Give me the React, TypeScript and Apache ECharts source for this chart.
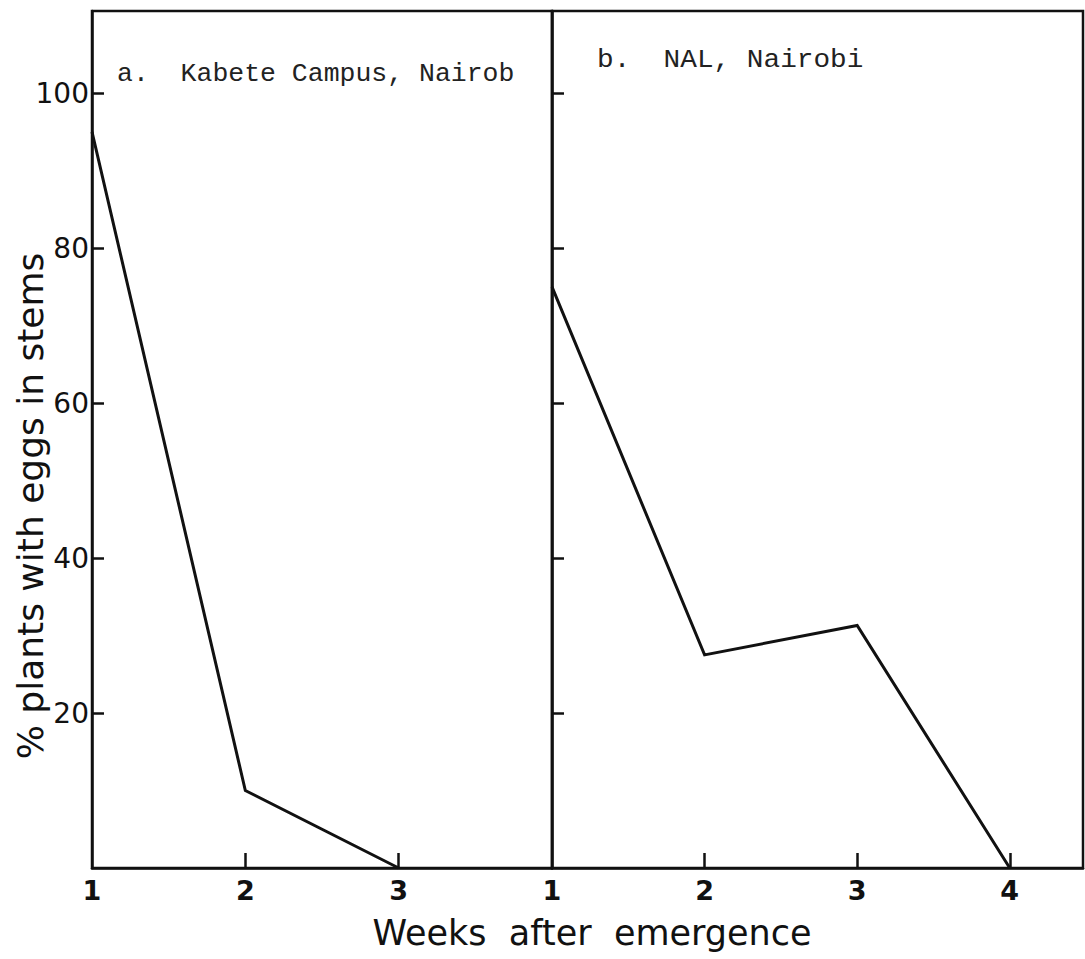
import React, { useEffect, useRef } from "react";
import * as echarts from "echarts";

// Week numbers and % plants with eggs in stems for each site
const kabeteWeeks = [1, 2, 3];
const kabeteValues = [95, 10, 0];
const nalWeeks = [1, 2, 3, 4];
const nalValues = [75, 27.5, 31.3, 0];

const yTickValues = [20, 40, 60, 80, 100];
const kabeteTickLabels = [1, 2, 3];
const nalTickLabels = [1, 2, 3, 4];

const panelTitles = ["a.  Kabete Campus, Nairob", "b.  NAL, Nairobi"];
const yTitle = "% plants with eggs in stems";
const xTitle = "Weeks  after  emergence";

const INK = "#111";
const SANS = "DejaVu Sans, Verdana, sans-serif";
const MONO = "Liberation Mono, DejaVu Sans Mono, monospace";

const toPairs = (xs: number[], ys: number[]) => xs.map((x, i) => [x, ys[i]]);

export default function App() {
  const ref = useRef<HTMLDivElement>(null);

  useEffect(() => {
    if (!ref.current) return;
    const chart = echarts.init(ref.current, undefined, { renderer: "svg" });

    const baseY = {
      type: "value" as const,
      min: 0,
      max: 110.6,
      splitLine: { show: false },
      axisLine: { show: true, lineStyle: { color: INK, width: 2.5 } },
      axisTick: {
        show: true,
        inside: true,
        length: 12,
        customValues: yTickValues,
        lineStyle: { color: INK, width: 2.5 },
      },
    };

    const baseX = {
      type: "value" as const,
      min: 1,
      splitLine: { show: false },
      axisLine: { show: true, lineStyle: { color: INK, width: 2.5 } },
      axisLabel: {
        show: true,
        color: INK,
        fontFamily: SANS,
        fontWeight: "bold" as const,
        fontSize: 27,
        margin: 9,
      },
    };

    chart.setOption({
      animation: false,
      backgroundColor: "#fff",
      grid: [
        {
          left: 92,
          top: 11,
          width: 460,
          height: 857,
          show: true,
          borderColor: INK,
          borderWidth: 2.5,
        },
        {
          left: 552,
          top: 11,
          width: 531,
          height: 857,
          show: true,
          borderColor: INK,
          borderWidth: 2.5,
        },
      ],
      xAxis: [
        {
          ...baseX,
          gridIndex: 0,
          max: 4,
          axisLabel: { ...baseX.axisLabel, customValues: kabeteTickLabels },
          axisTick: {
            show: true,
            inside: true,
            length: 15,
            customValues: [2, 3],
            lineStyle: { color: INK, width: 2.5 },
          },
        },
        {
          ...baseX,
          gridIndex: 1,
          max: 4.48,
          axisLabel: { ...baseX.axisLabel, customValues: nalTickLabels },
          axisTick: {
            show: true,
            inside: true,
            length: 15,
            customValues: [2, 3, 4],
            lineStyle: { color: INK, width: 2.5 },
          },
        },
      ],
      yAxis: [
        {
          ...baseY,
          gridIndex: 0,
          axisLabel: {
            show: true,
            customValues: yTickValues,
            color: INK,
            fontFamily: SANS,
            fontSize: 28,
            margin: 3,
          },
        },
        {
          ...baseY,
          gridIndex: 1,
          axisLabel: { show: false },
        },
      ],
      series: [
        {
          type: "line",
          xAxisIndex: 0,
          yAxisIndex: 0,
          data: toPairs(kabeteWeeks, kabeteValues),
          symbol: "none",
          lineStyle: { color: INK, width: 3, join: "miter" },
        },
        {
          type: "line",
          xAxisIndex: 1,
          yAxisIndex: 1,
          data: toPairs(nalWeeks, nalValues),
          symbol: "none",
          lineStyle: { color: INK, width: 3, join: "miter" },
        },
      ],
      graphic: [
        {
          type: "text",
          x: 117,
          y: 75,
          scaleX: 1.06,
          style: {
            text: panelTitles[0],
            fontFamily: MONO,
            fontSize: 25,
            fill: "#222",
            verticalAlign: "middle",
          },
        },
        {
          type: "text",
          x: 597,
          y: 60,
          scaleX: 1.11,
          style: {
            text: panelTitles[1],
            fontFamily: MONO,
            fontSize: 25,
            fill: "#222",
            verticalAlign: "middle",
          },
        },
        {
          type: "text",
          x: 30,
          y: 506,
          rotation: Math.PI / 2,
          style: {
            text: yTitle,
            fontFamily: SANS,
            fontSize: 36,
            fill: INK,
            align: "center",
            verticalAlign: "middle",
          },
        },
        {
          type: "text",
          x: 592,
          y: 933,
          style: {
            text: xTitle,
            fontFamily: SANS,
            fontSize: 35,
            fill: INK,
            align: "center",
            verticalAlign: "middle",
          },
        },
      ],
    });

    return () => chart.dispose();
  }, []);

  return (
    <div
      ref={ref}
      style={{ position: "absolute", left: 0, top: 0, width: 1085, height: 959 }}
    />
  );
}
